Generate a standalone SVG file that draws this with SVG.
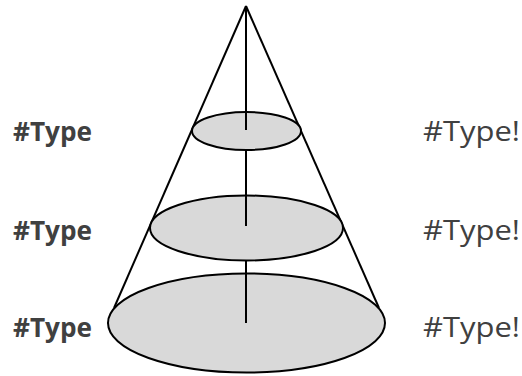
<svg xmlns="http://www.w3.org/2000/svg" width="522" height="376" viewBox="0 0 522 376">
<style>
.disk{fill:#d9d9d9;stroke:#000;stroke-width:2}
.ln{stroke:#000;stroke-width:2;fill:none}
.lb{font-family:"Open Sans","Liberation Sans",sans-serif;font-weight:bold;font-size:26.5px;fill:#404040}
.rb{font-family:"Open Sans","Liberation Sans",sans-serif;font-size:26.5px;fill:#404040}
</style>
<rect width="522" height="376" fill="#fff"/>
<g id="cone">
<line class="ln" x1="246" y1="6" x2="114" y2="308"/>
<line class="ln" x1="246" y1="6" x2="379" y2="308"/>
</g>
<g id="disk-bottom">
<ellipse class="disk" cx="246.5" cy="323" rx="138.5" ry="49.5"/>
</g>
<g id="disk-middle">
<ellipse class="disk" cx="246.5" cy="228" rx="96.5" ry="32.5"/>
</g>
<g id="disk-top">
<ellipse class="disk" cx="246.5" cy="131" rx="54.5" ry="19"/>
</g>
<g id="connectors">
<line class="ln" x1="246" y1="6" x2="246" y2="130"/>
<line class="ln" x1="246" y1="150" x2="246" y2="226"/>
<line class="ln" x1="246" y1="260" x2="246" y2="323"/>
</g>
<g id="labels-left">
<text class="lb" x="13" y="141" textLength="79" lengthAdjust="spacingAndGlyphs">#Type</text>
<text class="lb" x="13" y="240" textLength="79" lengthAdjust="spacingAndGlyphs">#Type</text>
<text class="lb" x="13" y="337" textLength="79" lengthAdjust="spacingAndGlyphs">#Type</text>
</g>
<g id="labels-right">
<text class="rb" x="423" y="141" textLength="97" lengthAdjust="spacingAndGlyphs">#Type!</text>
<text class="rb" x="423" y="240" textLength="97" lengthAdjust="spacingAndGlyphs">#Type!</text>
<text class="rb" x="423" y="337" textLength="97" lengthAdjust="spacingAndGlyphs">#Type!</text>
</g>
</svg>
